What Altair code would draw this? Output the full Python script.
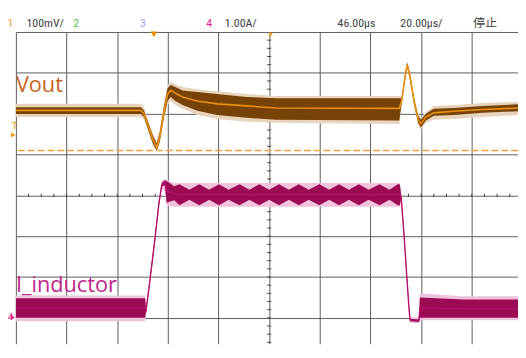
import altair as alt
import pandas as pd

# Oscilloscope screen: 20 us/div horizontally, values in screen divisions from the centre line
grid_t = [-100, -80, -60, -40, -20, 0, 20, 40, 60, 80]
grid_d = [-3, -2, -1, 0, 1, 2, 3, 4]

# ---- CH1 Vout (100 mV/div) : time (us), centre trace, dense band, ripple spikes
v_t = [-100.0, -50.6, -49.4, -47.9, -45.9, -44.4, -43.2, -41.6, -40.1, -38.9, -37.0, -34.2, -28.4, -20.6,
       -8.9, 2.7, 51.4, 52.3, 53.7, 54.5, 55.6, 57.2, 58.8, 59.9, 61.9, 65.0, 72.8, 84.4, 98.5]
v_mid = [2.08, 2.08, 1.99, 1.73, 1.37, 1.17, 1.42, 2.02, 2.48, 2.57, 2.50, 2.41, 2.31, 2.24,
         2.19, 2.14, 2.13, 2.31, 2.91, 3.20, 2.91, 2.31, 1.87, 1.75, 1.92, 2.02, 2.06, 2.10, 2.14]
v_dtop = [2.16, 2.16, 2.07, 1.80, 1.46, 1.27, 1.54, 2.16, 2.62, 2.70, 2.65, 2.57, 2.53, 2.48,
          2.41, 2.38, 2.38, 2.38, 2.99, 3.25, 2.99, 2.38, 1.95, 1.85, 2.00, 2.12, 2.14, 2.19, 2.23]
v_dbot = [1.99, 1.99, 1.92, 1.63, 1.27, 1.10, 1.32, 1.90, 2.31, 2.41, 2.31, 2.21, 2.07, 1.97,
          1.90, 1.85, 1.83, 2.24, 2.84, 3.13, 2.84, 2.24, 1.78, 1.66, 1.83, 1.95, 1.97, 2.02, 2.06]
v_ltop = [2.24, 2.24, 2.16, 1.87, 1.51, 1.32, 1.61, 2.24, 2.70, 2.77, 2.72, 2.65, 2.60, 2.55,
          2.48, 2.43, 2.43, 2.42, 3.01, 3.28, 3.01, 2.41, 2.00, 1.90, 2.04, 2.19, 2.21, 2.26, 2.29]
v_lbot = [1.92, 1.92, 1.85, 1.59, 1.20, 1.05, 1.25, 1.83, 2.21, 2.31, 2.21, 2.12, 1.97, 1.87,
          1.80, 1.78, 1.75, 2.20, 2.82, 3.11, 2.79, 2.19, 1.73, 1.61, 1.78, 1.85, 1.87, 1.92, 1.97]

# ---- CH4 I_inductor (1.00 A/div)
i_t = [-100.0, -49.0, -48.6, -47.1, -45.1, -43.6, -42.4, -41.2, -40.5, -37.5,
       -35.4, -31.5, -27.6, -23.7, -19.8, -16.0, -11.7, -7.8, -3.9, 0.0,
       3.9, 7.8, 11.7, 15.6, 19.8, 23.7, 27.6, 31.5, 35.4, 39.3,
       43.6, 47.5, 50.8, 51.6, 52.1, 53.3, 54.4, 55.3, 55.6, 59.1,
       59.5, 76.7, 98.5]
i_mid = [-2.76, -2.76, -2.81, -2.09, -1.07, -0.23, 0.26, 0.33, 0.10, 0.05,
         0.02, 0.02, 0.02, 0.02, 0.02, 0.02, 0.02, 0.02, 0.02, 0.02,
         0.02, 0.02, 0.02, 0.02, 0.02, 0.02, 0.02, 0.02, 0.02, 0.02,
         0.02, 0.02, 0.02, 0.02, -0.03, -1.00, -2.04, -2.84, -3.05, -3.07,
         -2.75, -2.78, -2.78]
i_dtop = [-2.52, -2.52, -2.76, -2.04, -1.02, -0.18, 0.31, 0.37, 0.35, 0.22,
          0.27, 0.14, 0.27, 0.14, 0.27, 0.14, 0.27, 0.14, 0.27, 0.14,
          0.27, 0.14, 0.27, 0.14, 0.27, 0.14, 0.27, 0.14, 0.27, 0.14,
          0.27, 0.14, 0.27, 0.27, 0.02, -0.95, -1.99, -2.79, -3.02, -3.04,
          -2.50, -2.55, -2.55]
i_dbot = [-3.00, -3.00, -2.86, -2.14, -1.12, -0.28, 0.21, 0.25, -0.18, -0.12,
          -0.24, -0.11, -0.24, -0.11, -0.24, -0.11, -0.24, -0.11, -0.24, -0.11,
          -0.24, -0.11, -0.24, -0.11, -0.24, -0.11, -0.24, -0.11, -0.24, -0.11,
          -0.24, -0.11, -0.24, -0.24, -0.08, -1.05, -2.09, -2.89, -3.08, -3.10,
          -3.00, -3.00, -3.00]
i_ltop = [-2.45, -2.45, -2.72, -1.99, -0.97, -0.13, 0.36, 0.40, 0.38, 0.30,
          0.30, 0.30, 0.30, 0.30, 0.30, 0.30, 0.30, 0.30, 0.30, 0.30,
          0.30, 0.30, 0.30, 0.30, 0.30, 0.30, 0.30, 0.30, 0.30, 0.30,
          0.30, 0.30, 0.30, 0.30, 0.07, -0.90, -1.94, -2.74, -2.98, -3.00,
          -2.40, -2.47, -2.47]
i_lbot = [-3.08, -3.08, -2.90, -2.19, -1.17, -0.33, 0.16, 0.10, -0.25, -0.28,
          -0.28, -0.28, -0.28, -0.28, -0.28, -0.28, -0.28, -0.28, -0.28, -0.28,
          -0.28, -0.28, -0.28, -0.28, -0.28, -0.28, -0.28, -0.28, -0.28, -0.28,
          -0.28, -0.28, -0.28, -0.28, -0.13, -1.10, -2.14, -2.94, -3.12, -3.13,
          -3.06, -3.06, -3.06]

# ---- trigger level (div)
trig_level = [1.10]

# ---- trace labels
lab_text = ["Vout", "I_inductor"]
lab_t = [-100.0, -100.0]
lab_d = [2.53, -2.36]
lab_color = ["#c8641e", "#c0268c"]

# ---- status line
hdr_text = ["1", "100mV/", "2", "3", "4", "1.00A/", "46.00µs", "20.00µs/", "停止"]
hdr_t = [-103.3, -95.8, -77.4, -51.0, -24.8, -17.5, 27.0, 51.8, 80.6]
hdr_color = ["#f5a032", "#404040", "#50c850", "#9aa0ee", "#e6208a", "#404040", "#404040", "#404040", "#404040"]
hdr_d = 4.12

# ---- screen markers
mk_t = [-45.5, 0.5, -101.0, -101.2]
mk_d = [3.94, 3.93, 1.48, -2.99]
mk_shape = ["triangle-down", "triangle-down", "triangle-right", "triangle-right"]
mk_size = [45, 25, 30, 25]
mk_color = ["#f08c00", "#f0a020", "#f0a020", "#e6208a"]

sm_text = ["T", "4"]
sm_t = [-101.6, -103.2]
sm_d = [1.63, -3.06]
sm_color = ["#f0a020", "#e6208a"]

# ---- graticule minor ticks on centre axes
tick_t = [v for v in range(-95, 100, 5)]
tick_d = [round(-3.6 + 0.2 * k, 2) for k in range(38)]

vout = pd.DataFrame({"t": v_t, "mid": v_mid, "dtop": v_dtop, "dbot": v_dbot, "ltop": v_ltop, "lbot": v_lbot})
cur = pd.DataFrame({"t": i_t, "mid": i_mid, "dtop": i_dtop, "dbot": i_dbot, "ltop": i_ltop, "lbot": i_lbot})
labels = pd.DataFrame({"t": lab_t, "d": lab_d, "text": lab_text, "color": lab_color})
hdr = pd.DataFrame({"t": hdr_t, "d": [hdr_d] * len(hdr_t), "text": hdr_text, "color": hdr_color})
marks = pd.DataFrame({"t": mk_t, "d": mk_d, "shape": mk_shape, "size": mk_size, "color": mk_color})
smalls = pd.DataFrame({"t": sm_t, "d": sm_d, "text": sm_text, "color": sm_color})
xt = pd.DataFrame({"t": tick_t, "d1": [-0.04] * len(tick_t), "d2": [0.04] * len(tick_t)})
yt = pd.DataFrame({"d": tick_d, "t1": [-0.8] * len(tick_d), "t2": [0.8] * len(tick_d)})
trig = pd.DataFrame({"d": trig_level})

xs = alt.Scale(domain=[-100, 98.25], nice=False, zero=False)
ys = alt.Scale(domain=[-3.633, 4.0], nice=False, zero=False)
xax = alt.Axis(values=grid_t, grid=True, labels=False, ticks=False, domain=False, title=None,
               gridColor="#5c5c5c", gridWidth=1, gridOpacity=1)
yax = alt.Axis(values=grid_d, grid=True, labels=False, ticks=False, domain=False, title=None,
               gridColor="#5c5c5c", gridWidth=1, gridOpacity=1)


def X(f):
    return alt.X(f, type="quantitative", scale=xs, axis=xax)


def Y(f):
    return alt.Y(f, type="quantitative", scale=ys, axis=yax)


xticks = alt.Chart(xt).mark_rule(color="#444444", strokeWidth=1).encode(x=X("t"), y=Y("d1"), y2="d2")
yticks = alt.Chart(yt).mark_rule(color="#444444", strokeWidth=1).encode(y=Y("d"), x=X("t1"), x2="t2")
trig_line = alt.Chart(trig).mark_rule(color="#f5a040", strokeWidth=1.5, strokeDash=[7, 3]).encode(y=Y("d"))

c_light = alt.Chart(cur).mark_area(color="#f0c2dc", opacity=1).encode(x=X("t"), y=Y("ltop"), y2="lbot")
c_dark = alt.Chart(cur).mark_area(color="#9c0a54", opacity=1).encode(x=X("t"), y=Y("dtop"), y2="dbot")
c_line = alt.Chart(cur).mark_line(color="#b4106c", strokeWidth=1.4).encode(x=X("t"), y=Y("mid"))

v_light = alt.Chart(vout).mark_area(color="#e8d4bc", opacity=1).encode(x=X("t"), y=Y("ltop"), y2="lbot")
v_dark = alt.Chart(vout).mark_area(color="#774206", opacity=1).encode(x=X("t"), y=Y("dtop"), y2="dbot")
v_line = alt.Chart(vout).mark_line(color="#e8900f", strokeWidth=1.6).encode(x=X("t"), y=Y("mid"))

lab = alt.Chart(labels).mark_text(align="left", baseline="alphabetic", fontSize=22, font="Open Sans").encode(
    x=X("t"), y=Y("d"), text="text:N", color=alt.Color("color:N", scale=None))
hdr_l = alt.Chart(hdr).mark_text(align="left", baseline="alphabetic", fontSize=12,
                                 font="Liberation Sans Narrow, Roboto Condensed, Roboto, Noto Sans CJK JP").encode(
    x=X("t"), y=Y("d"), text="text:N", color=alt.Color("color:N", scale=None))
mk = alt.Chart(marks).mark_point(filled=True, opacity=1).encode(
    x=X("t"), y=Y("d"), shape=alt.Shape("shape:N", scale=None), size=alt.Size("size:Q", scale=None),
    color=alt.Color("color:N", scale=None))
sm = alt.Chart(smalls).mark_text(align="left", baseline="alphabetic", fontSize=10, font="Roboto").encode(
    x=X("t"), y=Y("d"), text="text:N", color=alt.Color("color:N", scale=None))

chart = alt.layer(
    xticks, yticks, trig_line, c_light, c_dark, c_line, v_light, v_dark, v_line, lab, hdr_l, mk, sm
).properties(
    width=509, height=316,
    padding={"left": 8, "top": 22, "right": 0, "bottom": 0},
    autosize=alt.AutoSizeParams(type="none"),
    background="white",
).configure_view(stroke=None)

chart.save("out.html", embed_options={"renderer": "svg", "actions": False})
